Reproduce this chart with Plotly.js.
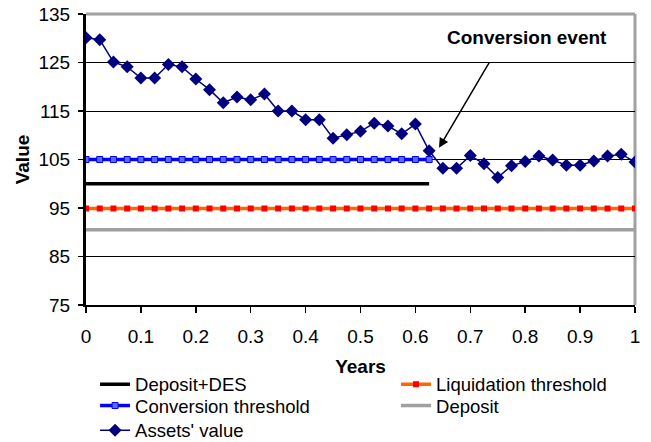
<!DOCTYPE html>
<html>
<head>
<meta charset="utf-8">
<script src="https://cdn.plot.ly/plotly-3.0.1.min.js"></script>
<style>html,body{margin:0;padding:0;background:#fff;}#chart{width:651px;height:442px;}</style>
</head>
<body>
<div id="chart"></div>
<script>
// ---- data ----
const years = [0, 0.025, 0.05, 0.075, 0.1, 0.125, 0.15, 0.175, 0.2, 0.225, 0.25, 0.275, 0.3, 0.325, 0.35, 0.375, 0.4, 0.425, 0.45, 0.475, 0.5, 0.525, 0.55, 0.575, 0.6, 0.625, 0.65, 0.675, 0.7, 0.725, 0.75, 0.775, 0.8, 0.825, 0.85, 0.875, 0.9, 0.925, 0.95, 0.975, 1];
const yearsBeforeConversion = [0, 0.025, 0.05, 0.075, 0.1, 0.125, 0.15, 0.175, 0.2, 0.225, 0.25, 0.275, 0.3, 0.325, 0.35, 0.375, 0.4, 0.425, 0.45, 0.475, 0.5, 0.525, 0.55, 0.575, 0.6, 0.625];
const assetsValue = [130.1, 129.7, 125.1, 124.1, 121.8, 121.8, 124.6, 124.1, 121.6, 119.4, 116.7, 117.9, 117.3, 118.5, 115.0, 115.0, 113.2, 113.2, 109.4, 110.1, 110.8, 112.5, 111.9, 110.3, 112.3, 106.8, 103.2, 103.2, 105.8, 104.1, 101.3, 103.7, 104.6, 105.7, 104.9, 103.8, 103.8, 104.7, 105.7, 106.1, 104.5];
const depositDES = [100, 100, 100, 100, 100, 100, 100, 100, 100, 100, 100, 100, 100, 100, 100, 100, 100, 100, 100, 100, 100, 100, 100, 100, 100, 100];
const conversionThreshold = [105, 105, 105, 105, 105, 105, 105, 105, 105, 105, 105, 105, 105, 105, 105, 105, 105, 105, 105, 105, 105, 105, 105, 105, 105, 105];
const liquidationThreshold = [94.9, 94.9, 94.9, 94.9, 94.9, 94.9, 94.9, 94.9, 94.9, 94.9, 94.9, 94.9, 94.9, 94.9, 94.9, 94.9, 94.9, 94.9, 94.9, 94.9, 94.9, 94.9, 94.9, 94.9, 94.9, 94.9, 94.9, 94.9, 94.9, 94.9, 94.9, 94.9, 94.9, 94.9, 94.9, 94.9, 94.9, 94.9, 94.9, 94.9, 94.9];
const deposit = [90.5, 90.5, 90.5, 90.5, 90.5, 90.5, 90.5, 90.5, 90.5, 90.5, 90.5, 90.5, 90.5, 90.5, 90.5, 90.5, 90.5, 90.5, 90.5, 90.5, 90.5, 90.5, 90.5, 90.5, 90.5, 90.5, 90.5, 90.5, 90.5, 90.5, 90.5, 90.5, 90.5, 90.5, 90.5, 90.5, 90.5, 90.5, 90.5, 90.5, 90.5];
const seriesNames = ["Deposit+DES", "Liquidation threshold", "Conversion threshold", "Deposit", "Assets' value"];
const annotationText = "Conversion event";

const FONT = "Arial, 'Liberation Sans', sans-serif";

const traces = [
  {x: yearsBeforeConversion, y: depositDES, name: seriesNames[0], mode: 'lines', legend: 'legend',
   line: {color: '#000000', width: 3.5}},
  {x: years, y: liquidationThreshold, name: seriesNames[1], mode: 'lines+markers', legend: 'legend2',
   line: {color: '#ff6600', width: 3.5},
   marker: {symbol: 'square', size: 6, color: '#ff0000', line: {width: 0}}},
  {x: yearsBeforeConversion, y: conversionThreshold, name: seriesNames[2], mode: 'lines+markers', legend: 'legend3',
   line: {color: '#0000ff', width: 3.5},
   marker: {symbol: 'square', size: 6, color: '#5a6cff', line: {color: '#0000ff', width: 1}}},
  {x: years, y: deposit, name: seriesNames[3], mode: 'lines', legend: 'legend4',
   line: {color: '#a0a0a0', width: 3.5}},
  {x: years, y: assetsValue, name: seriesNames[4], mode: 'lines+markers', legend: 'legend5',
   line: {color: '#000080', width: 1.5},
   marker: {symbol: 'diamond', size: 10, color: '#000080'}}
];

const legendCommon = {
  orientation: 'v', xref: 'paper', yref: 'paper', xanchor: 'left', yanchor: 'top',
  font: {family: FONT, size: 18.5, color: '#000000'},
  bgcolor: 'rgba(0,0,0,0)', borderwidth: 0, tracegroupgap: 0, itemwidth: 30
};
const col1 = 0.0165, col2 = 0.5647;
const row1 = -0.2086, row2 = -0.2818, row3 = -0.3666;

const layout = {
  width: 651, height: 442,
  margin: {l: 86, r: 16, t: 14, b: 137, autoexpand: false},
  paper_bgcolor: '#ffffff', plot_bgcolor: '#ffffff',
  font: {family: FONT, color: '#000000', size: 18},
  showlegend: true,
  legend: Object.assign({}, legendCommon, {x: col1, y: row1}),
  legend2: Object.assign({}, legendCommon, {x: col2, y: row1}),
  legend3: Object.assign({}, legendCommon, {x: col1, y: row2}),
  legend4: Object.assign({}, legendCommon, {x: col2, y: row2}),
  legend5: Object.assign({}, legendCommon, {x: col1, y: row3}),
  xaxis: {
    range: [0, 1], dtick: 0.1, tick0: 0,
    showgrid: false, zeroline: false,
    showline: true, linecolor: '#000000', linewidth: 2,
    ticks: 'outside', ticklen: 6, tickcolor: '#000000', tickwidth: 1.5,
    tickfont: {family: FONT, size: 19, color: '#000000'},
    ticklabelstandoff: 7,
    title: {text: '<b>Years</b>', font: {family: FONT, size: 19, color: '#000000'}, standoff: 14},
    automargin: false
  },
  yaxis: {
    range: [75, 135], dtick: 10, tick0: 75,
    showgrid: true, gridcolor: '#000000', gridwidth: 1, zeroline: false,
    showline: true, linecolor: '#000000', linewidth: 3,
    ticks: 'outside', ticklen: 5, tickcolor: '#000000', tickwidth: 1.5,
    tickfont: {family: FONT, size: 19, color: '#000000'},
    ticklabelstandoff: 4,
    title: {text: '<b>Value</b>', font: {family: FONT, size: 19, color: '#000000'}, standoff: 4},
    automargin: false
  },
  shapes: [
    {type: 'line', xref: 'paper', yref: 'paper', x0: 0, x1: 1, y0: 1, y1: 1,
     line: {color: '#a0a0a0', width: 3}, layer: 'above'},
    {type: 'line', xref: 'paper', yref: 'paper', x0: 1, x1: 1, y0: 0, y1: 1,
     line: {color: '#a0a0a0', width: 3}, layer: 'below'},
    {type: 'rect', xref: 'paper', yref: 'paper', x0: 0.592, x1: 0.98, y0: 0.8, y1: 0.98,
     fillcolor: '#ffffff', line: {width: 0}, layer: 'between'}
  ],
  annotations: [
    {xref: 'paper', yref: 'paper', x: 0.804, y: 0.92, xanchor: 'center', yanchor: 'middle',
     text: '<b>' + annotationText + '</b>', showarrow: false,
     font: {family: FONT, size: 19, color: '#000000'}},
    {xref: 'x', yref: 'y', x: 0.643, y: 107.4, axref: 'x', ayref: 'y', ax: 0.736, ay: 125.3,
     text: '', showarrow: true, arrowhead: 2, arrowsize: 1.3, arrowwidth: 1.5, arrowcolor: '#000000'}
  ]
};

Plotly.newPlot('chart', traces, layout, {displayModeBar: false, staticPlot: true});
</script>
</body>
</html>
